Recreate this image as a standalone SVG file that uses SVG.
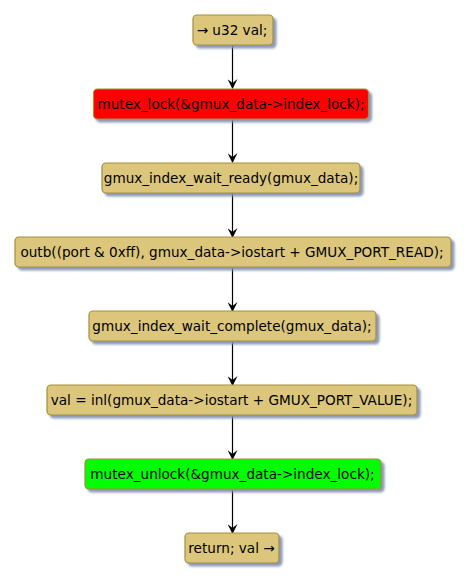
<svg xmlns="http://www.w3.org/2000/svg" width="468" height="581" viewBox="0 0 468 581">
<defs>
<filter id="sh" x="-10%" y="-20%" width="130%" height="160%">
<feGaussianBlur in="SourceAlpha" stdDeviation="1.2"/>
<feOffset dx="3" dy="3" result="o"/>
<feFlood flood-color="#8090B0" flood-opacity="0.9"/>
<feComposite in2="o" operator="in"/>
<feMerge><feMergeNode/><feMergeNode in="SourceGraphic"/></feMerge>
</filter>
<marker id="ah" markerWidth="10" markerHeight="10" refX="9" refY="5" orient="auto" markerUnits="userSpaceOnUse">
<path d="M0,0 L10,5 L0,10 L4,5 Z" fill="#000"/>
</marker>
</defs>
<style>
.n rect{fill:#DCC67C;stroke:#A38E3C;stroke-width:1.2;filter:url(#sh)}
.n.red rect{fill:#FF0000}
.n.grn rect{fill:#00FF00}
.n text{font-family:"DejaVu Sans",sans-serif;font-size:13.6px;fill:#000;text-anchor:middle}
.c line{stroke:#000;stroke-width:1.2;marker-end:url(#ah)}
</style>
<rect width="468" height="581" fill="#fff"/>
<g class="c" id="connectors">
<line x1="232.5" y1="45" x2="232.5" y2="88"/>
<line x1="232.5" y1="119" x2="232.5" y2="162"/>
<line x1="232.5" y1="193" x2="232.5" y2="237"/>
<line x1="232.5" y1="268" x2="232.5" y2="311"/>
<line x1="232.5" y1="342" x2="232.5" y2="385"/>
<line x1="232.5" y1="416" x2="232.5" y2="459"/>
<line x1="232.5" y1="490" x2="232.5" y2="533"/>
</g>
<g class="n" id="n1"><rect x="193" y="15" width="80" height="30" rx="4"/><text x="232" y="35">→ u32 val;</text></g>
<g class="n red" id="n2"><rect x="93.5" y="89" width="275" height="30" rx="4"/><text x="231" y="109">mutex_lock(&amp;gmux_data-&gt;index_lock);</text></g>
<g class="n" id="n3"><rect x="102" y="163" width="258" height="30" rx="4"/><text x="231" y="183">gmux_index_wait_ready(gmux_data);</text></g>
<g class="n" id="n4"><rect x="15" y="237" width="436" height="30" rx="4"/><text x="232" y="257">outb((port &amp; 0xff), gmux_data-&gt;iostart + GMUX_PORT_READ);</text></g>
<g class="n" id="n5"><rect x="89" y="311" width="287" height="30" rx="4"/><text x="232" y="331">gmux_index_wait_complete(gmux_data);</text></g>
<g class="n" id="n6"><rect x="47" y="385" width="370" height="30" rx="4"/><text x="231.5" y="405">val = inl(gmux_data-&gt;iostart + GMUX_PORT_VALUE);</text></g>
<g class="n grn" id="n7"><rect x="85" y="459" width="296" height="30" rx="4"/><text x="232.5" y="479">mutex_unlock(&amp;gmux_data-&gt;index_lock);</text></g>
<g class="n" id="n8"><rect x="185" y="533" width="94" height="30" rx="4"/><text x="231.5" y="553">return; val →</text></g>
</svg>
